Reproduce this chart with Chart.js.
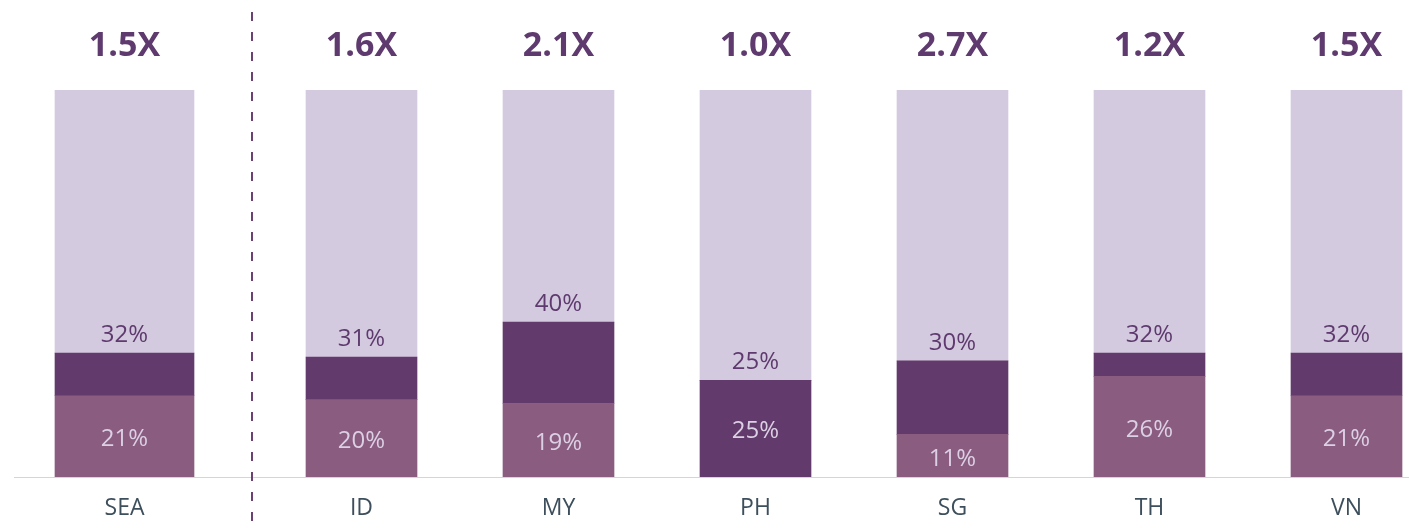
<!DOCTYPE html>
<html>
<head>
<meta charset="utf-8">
<script src="https://cdn.jsdelivr.net/npm/chart.js@4"></script>
<style>
  html, body { margin: 0; padding: 0; background: #fff; overflow: hidden; }
  #wrap { position: relative; width: 1409px; height: 528px; overflow: hidden; }
  #left { position: absolute; left: 0; top: 0; }
  #right { position: absolute; left: 254px; top: 0; }
</style>
</head>
<body>
<div id="wrap">
  <canvas id="left" width="254" height="528"></canvas>
  <canvas id="right" width="1200" height="528"></canvas>
</div>
<script>
// данные
const regions = ['SEA', 'ID', 'MY', 'PH', 'SG', 'TH', 'VN'];
const baseShare = [21, 20, 19, 25, 11, 26, 21];   // нижний сегмент
const totalShare = [32, 31, 40, 25, 30, 32, 32];  // верхняя подпись
const multiplier = [1.5, 1.6, 2.1, 1.0, 2.7, 1.2, 1.5];

// цвета
const cMid = '#8a5c80';
const cDark = '#623a6b';
const cLight = '#d4cae0';
const cText = '#5e3a6e';
const cInner = '#dcd0e4';
const cAxis = '#3d4f5c';
const cLine = '#cfd6dc';

const FONT = '"Open Sans", Lato, sans-serif';

// подписи + базовая линия
const labelsPlugin = {
  id: 'labelsPlugin',
  beforeDatasetsDraw(chart) {
    const ctx = chart.ctx;
    const y0 = Math.round(chart.scales.y.getPixelForValue(0)) + 0.5;
    ctx.save();
    ctx.strokeStyle = cLine;
    ctx.lineWidth = 1;
    ctx.beginPath();
    ctx.moveTo(chart.options.baseStart, y0);
    ctx.lineTo(chart.width, y0);
    ctx.stroke();
    ctx.restore();
  },
  afterDatasetsDraw(chart) {
    const ctx = chart.ctx;
    const off = chart.options.offsetIdx;
    const yScale = chart.scales.y;
    ctx.save();
    ctx.textAlign = 'center';
    ctx.textBaseline = 'middle';
    chart.getDatasetMeta(0).data.forEach((bar, i) => {
      const k = i + off;
      const x = bar.x;
      // нижняя подпись
      const yb = (yScale.getPixelForValue(0) + yScale.getPixelForValue(baseShare[k])) / 2 + 3;
      ctx.fillStyle = cInner;
      ctx.font = '400 24px ' + FONT;
      ctx.fillText(baseShare[k] + '%', x, yb);
      // верхняя подпись
      ctx.fillStyle = cText;
      ctx.fillText(totalShare[k] + '%', x, yScale.getPixelForValue(totalShare[k]) - 18);
      // множитель
      ctx.font = '700 34px ' + FONT;
      ctx.fillText(multiplier[k].toFixed(1) + 'X', x, 46);
    });
    if (chart.options.divider) {
      ctx.strokeStyle = '#6b4173';
      ctx.lineWidth = 2;
      ctx.setLineDash([9, 11]);
      ctx.beginPath();
      ctx.moveTo(252, 12);
      ctx.lineTo(252, 528);
      ctx.stroke();
    }
    ctx.restore();
  }
};

function makeChart(id, from, to, thickness, pad, extra) {
  const labels = regions.slice(from, to);
  const base = baseShare.slice(from, to);
  const total = totalShare.slice(from, to);
  const inc = total.map((t, i) => t - base[i]);
  const rest = total.map(t => 100 - t);

  return new Chart(document.getElementById(id), {
    type: 'bar',
    data: {
      labels: labels,
      datasets: [
        {
          data: base,
          backgroundColor: (c) => (base[c.dataIndex] === total[c.dataIndex] ? cDark : cMid),
          barThickness: thickness,
          borderWidth: 0
        },
        { data: inc, backgroundColor: cDark, barThickness: thickness, borderWidth: 0 },
        { data: rest, backgroundColor: cLight, barThickness: thickness, borderWidth: 0 }
      ]
    },
    options: Object.assign({
      responsive: false,
      devicePixelRatio: 1,
      animation: false,
      layout: { padding: pad },
      plugins: { legend: { display: false }, tooltip: { enabled: false } },
      scales: {
        x: {
          stacked: true,
          grid: { display: false },
          border: { display: false },
          ticks: {
            color: cAxis,
            font: { family: FONT, size: 23 },
            padding: 10
          },
          afterFit: (scale) => { scale.height = 51; }
        },
        y: {
          stacked: true,
          display: false,
          min: 0,
          max: 100
        }
      }
    }, extra),
    plugins: [labelsPlugin]
  });
}

makeChart('left', 0, 1, 139, { left: 14, right: 19, top: 90, bottom: 0 },
  { offsetIdx: 0, baseStart: 14, divider: true });
makeChart('right', 1, 7, 111, { left: 9, right: 9, top: 90, bottom: 0 },
  { offsetIdx: 1, baseStart: 0, divider: false });
</script>
</body>
</html>
